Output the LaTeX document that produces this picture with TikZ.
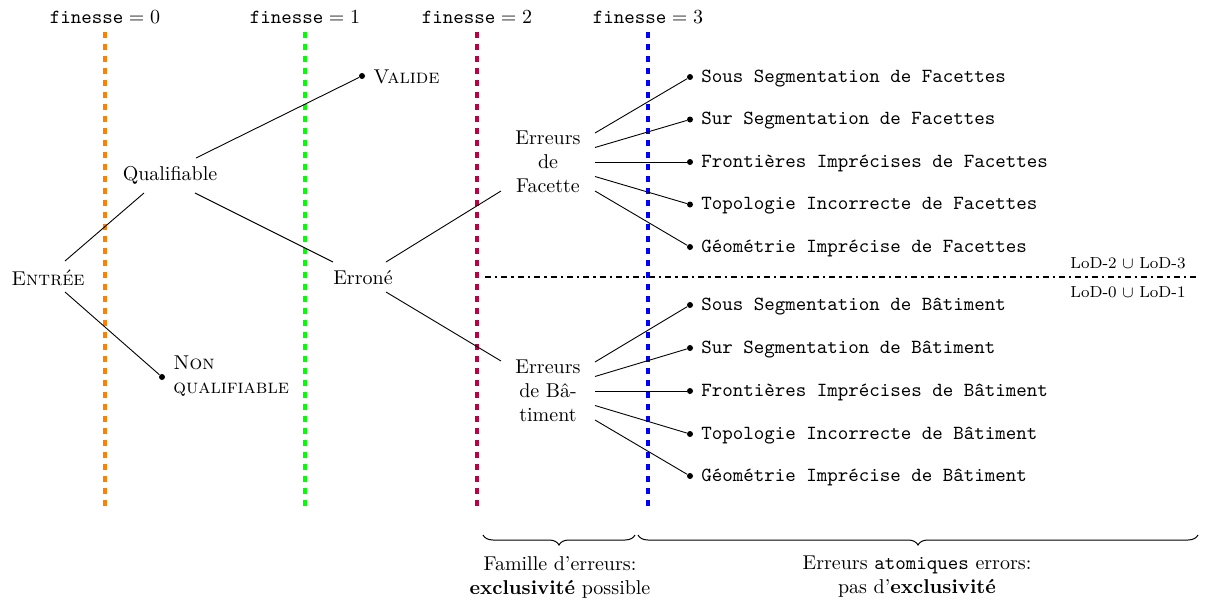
\documentclass[tikz,border=0pt]{standalone}
\usepackage{fontspec}
\usetikzlibrary{decorations.pathreplacing}
\begin{document}
\begin{tikzpicture}[x=0.5pt,y=-0.5pt,
  lvl/.style={line width=1.6pt, dashed},
  edge/.style={draw, line width=0.45pt},
  dot/.style={circle, fill, inner sep=0pt, minimum size=3pt},
  leaf/.style={anchor=base west, inner sep=0pt, font=\ttfamily},
  txt/.style={inner sep=0pt, align=center},
  lab/.style={inner sep=0pt},
  brc/.style={decorate, decoration={brace, amplitude=5pt, mirror}, line width=0.5pt}]
\useasboundingbox (0,0) rectangle (1207,600);

% finesse levels
\draw[lvl, orange] (105,32) -- (105,510);
\draw[lvl, green] (305,32) -- (305,510);
\draw[lvl, purple] (477,32) -- (477,510);
\draw[lvl, blue] (648,32) -- (648,510);
\node[lab] (f0) at (105,17) {$\texttt{finesse}=0$};
\node[lab] (f1) at (305,17) {$\texttt{finesse}=1$};
\node[lab] (f2) at (477,17) {$\texttt{finesse}=2$};
\node[lab] (f3) at (648,17) {$\texttt{finesse}=3$};

% LoD separator
\draw[line width=1.2pt, dash dot] (485,277) -- (1200,277);
\node[lab, font=\footnotesize] (lod23) at (1128,263) {LoD-2 $\cup$ LoD-3};
\node[lab, font=\footnotesize] (lod01) at (1128,292) {LoD-0 $\cup$ LoD-1};

% tree nodes
\node[txt] (entree) at (48,278) {\textsc{Entrée}};
\node[txt] (qual) at (170,175) {Qualifiable};
\node[dot] (dv) at (362,76) {};
\node[lab, anchor=west] (valide) at (373,77) {\textsc{Valide}};
\node[dot] (dnq) at (162,377) {};
\node[lab, anchor=west, align=left] (nq) at (173,376) {\textsc{Non}\\\textsc{qualifiable}};
\node[txt] (errone) at (363,278) {Erroné};
\node[txt] (fac) at (548,162) {Erreurs\\de\\Facette};
\node[txt] (bat) at (548,391) {Erreurs\\de Bâ-\\timent};

% leaves facettes
\node[dot] (fd1) at (690,77) {};
\node[dot] (fd2) at (690,119.5) {};
\node[dot] (fd3) at (690,162) {};
\node[dot] (fd4) at (690,204.5) {};
\node[dot] (fd5) at (690,247) {};
\node[leaf] (fl1) at (701,82) {Sous Segmentation de Facettes};
\node[leaf] (fl2) at (701,124.5) {Sur Segmentation de Facettes};
\node[leaf] (fl3) at (701,167) {Frontières Imprécises de Facettes};
\node[leaf] (fl4) at (701,209.5) {Topologie Incorrecte de Facettes};
\node[leaf] (fl5) at (701,252) {Géométrie Imprécise de Facettes};

% leaves batiments
\node[dot] (bd1) at (690,305) {};
\node[dot] (bd2) at (690,348) {};
\node[dot] (bd3) at (690,391) {};
\node[dot] (bd4) at (690,434) {};
\node[dot] (bd5) at (690,476) {};
\node[leaf] (bl1) at (701,310) {Sous Segmentation de Bâtiment};
\node[leaf] (bl2) at (701,353) {Sur Segmentation de Bâtiment};
\node[leaf] (bl3) at (701,396) {Frontières Imprécises de Bâtiment};
\node[leaf] (bl4) at (701,439) {Topologie Incorrecte de Bâtiment};
\node[leaf] (bl5) at (701,481) {Géométrie Imprécise de Bâtiment};

% edges
\path[edge] ([shift={(17,-17)}]entree.center) -- ([shift={(-26,18)}]qual.center);
\path[edge] ([shift={(17,14)}]entree.center) -- (dnq);
\path[edge] ([shift={(26,-17)}]qual.center) -- (dv);
\path[edge] ([shift={(25,18)}]qual.center) -- ([shift={(-30,-16)}]errone.center);
\path[edge] ([shift={(23,-16)}]errone.center) -- ([shift={(-47,29)}]fac.center);
\path[edge] ([shift={(23,14)}]errone.center) -- ([shift={(-47,-30)}]bat.center);
\foreach \i/\dy in {1/-29,2/-14.5,3/0,4/14.5,5/29} {
  \path[edge] ([shift={(47,\dy)}]fac.center) -- (fd\i);
  \path[edge] ([shift={(47,\dy)}]bat.center) -- (bd\i);
}

% braces
\coordinate (b1a) at (483,535);
\coordinate (b1b) at (635,535);
\coordinate (b2a) at (638,535);
\coordinate (b2b) at (1198,535);
\draw[brc] (b1a) -- (b1b);
\draw[brc] (b2a) -- (b2b);
\node[txt] (fam) at (560,577) {Famille d’erreurs:\\\textbf{exclusivité} possible};
\node[txt] (ato) at (917,577) {Erreurs \texttt{atomiques} errors:\\pas d’\textbf{exclusivité}};
\end{tikzpicture}
\end{document}
